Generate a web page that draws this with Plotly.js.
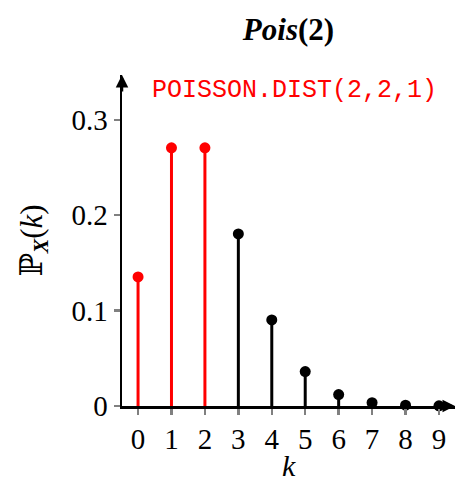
<!DOCTYPE html>
<html>
<head>
<meta charset="utf-8">
<script src="https://cdn.plot.ly/plotly-3.0.1.min.js"></script>
<style>html,body{margin:0;padding:0;background:#fff;}#chart{width:456px;height:484px;}</style>
</head>
<body>
<div id="chart"></div>
<script>
// Data
const kRed = [0, 1, 2];
const pRed = [0.1353, 0.2707, 0.2707];
const kBlack = [3, 4, 5, 6, 7, 8, 9];
const pBlack = [0.1804, 0.0902, 0.0361, 0.0120, 0.0034, 0.0009, 0.0002];
const xTickVals = [0, 1, 2, 3, 4, 5, 6, 7, 8, 9];
const xTickText = ['0', '1', '2', '3', '4', '5', '6', '7', '8', '9'];
const yTickVals = [0, 0.1, 0.2, 0.3];
const yTickText = ['0', '0.1', '0.2', '0.3'];

const serif = 'Liberation Serif, DejaVu Serif, serif';
const xRange = [-0.48, 9.48];
const yRange = [0, 0.347];

function stemTrace(xs, ys, color) {
  return {
    type: 'scatter', mode: 'markers', x: xs, y: ys,
    marker: {color: color, size: 11},
    error_y: {type: 'data', symmetric: false, array: ys.map(() => 0), arrayminus: ys,
              width: 0, thickness: 3, color: color},
    cliponaxis: false, hoverinfo: 'skip', showlegend: false
  };
}

const data = [stemTrace(kRed, pRed, '#ff0000'), stemTrace(kBlack, pBlack, '#000000')];

const layout = {
  width: 456, height: 484,
  margin: {l: 122, r: 1, t: 75, b: 78},
  paper_bgcolor: '#fff', plot_bgcolor: '#fff',
  showlegend: false,
  title: {text: '<b><i>Pois</i>(2)</b>', font: {family: serif, size: 31, color: '#000'},
          x: 0.5, xref: 'paper', xanchor: 'center', y: 1 - 29/484, yanchor: 'middle'},
  xaxis: {range: xRange, showgrid: false, zeroline: false,
          showline: true, linecolor: '#000', linewidth: 2.5,
          ticks: 'outside', ticklen: 6, tickwidth: 2.5, tickcolor: '#808080',
          tickvals: xTickVals, ticktext: xTickText,
          tickfont: {family: serif, size: 29, color: '#000'},
          layer: 'above traces', fixedrange: true},
  yaxis: {range: yRange, showgrid: false, zeroline: false,
          showline: true, linecolor: '#000', linewidth: 2.5,
          ticks: 'outside', ticklen: 6, tickwidth: 2.5, tickcolor: '#808080',
          tickvals: yTickVals, ticktext: yTickText,
          tickfont: {family: serif, size: 29, color: '#000'},
          layer: 'above traces', fixedrange: true},
  xaxis2: {range: xRange, overlaying: 'x', anchor: 'y', showgrid: false, zeroline: false,
           showline: false, ticks: 'inside', ticklen: 6, tickwidth: 2.5, tickcolor: '#808080',
           tickvals: xTickVals, showticklabels: false, layer: 'above traces'},
  yaxis2: {range: yRange, overlaying: 'y', anchor: 'x', showgrid: false, zeroline: false,
           showline: false, ticks: 'inside', ticklen: 6, tickwidth: 2.5, tickcolor: '#808080',
           tickvals: yTickVals, showticklabels: false, layer: 'above traces'},
  annotations: [
    {xref: 'x', yref: 'y', x: xRange[1], y: 0, ax: -18, ay: 0, text: '', showarrow: true,
     arrowhead: 2, arrowsize: 1, arrowwidth: 2.5, arrowcolor: '#000', standoff: 0},
    {xref: 'x', yref: 'y', x: xRange[0], y: yRange[1], ax: 0, ay: 18, text: '', showarrow: true,
     arrowhead: 2, arrowsize: 1, arrowwidth: 2.5, arrowcolor: '#000', standoff: 0},
    {xref: 'paper', yref: 'paper', x: 0.0, y: 1, xshift: 28, yshift: -15, xanchor: 'left', yanchor: 'middle',
     text: 'POISSON.DIST(2,2,1)', showarrow: false,
     font: {family: 'Liberation Mono, DejaVu Sans Mono, monospace', size: 25, color: '#ff0000'}},
    {xref: 'paper', yref: 'paper', x: 0.5, y: 0, yshift: -59, xanchor: 'center', yanchor: 'middle',
     text: '<i>k</i>', showarrow: false, font: {family: serif, size: 30, color: '#000'}},
    {xref: 'paper', yref: 'paper', x: 0, y: 0.5, xshift: -89, xanchor: 'center', yanchor: 'middle',
     textangle: -90, text: 'ℙ<sub><b><i>X</i></b></sub>(<i>k</i>)', showarrow: false,
     font: {family: serif, size: 31, color: '#000'}}
  ]
};

Plotly.newPlot('chart', data, layout, {staticPlot: true, displayModeBar: false});
</script>
</body>
</html>
